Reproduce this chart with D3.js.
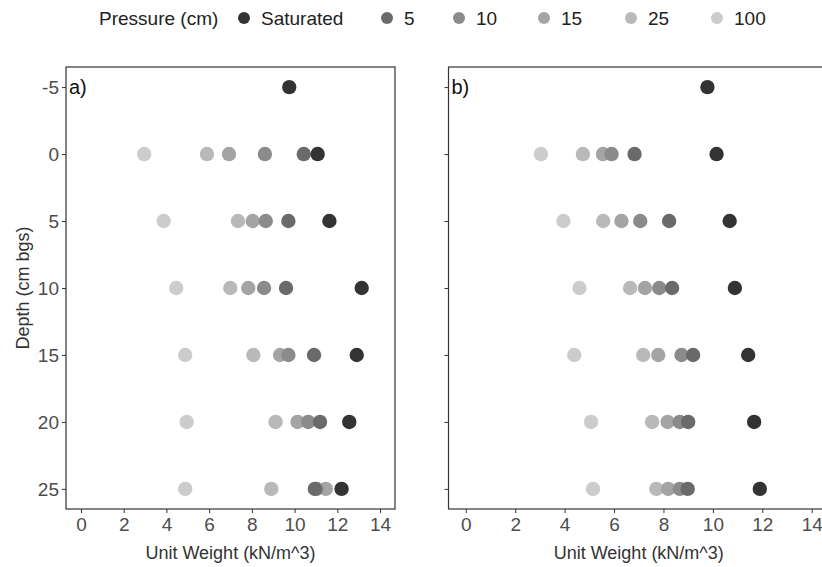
<!DOCTYPE html>
<html lang="en">
<head>
  <meta charset="UTF-8">
  <title>Unit Weight by Depth</title>
  <script src="https://d3js.org/d3.v7.min.js"></script>
  <style>
    body {
      margin: 0;
      background: #fff;
      font-family: 'Liberation Sans', Arial, sans-serif;
    }
    svg { display: block; }
    .tick-label { fill: #4d4d4d; font-size: 19px; }
    .axis-title { fill: #333; font-size: 18px; }
    .legend-text { fill: #222; font-size: 19px; }
    .panel-label { fill: #111; font-size: 20px; }
  </style>
</head>
<body>
  <svg width="822" height="567"></svg>

  <script>
    // depths (cm below ground surface) and pressure classes
    const depths = [-5, 0, 5, 10, 15, 20, 25];
    const pressures = ["Saturated", "5", "10", "15", "25", "100"];
    const colors = ["#333333", "#6a6a6a", "#8b8b8b", "#a4a4a4", "#b9b9b9", "#cccccc"];
    const xTicks = [0, 2, 4, 6, 8, 10, 12, 14];
    const yTicks = [-5, 0, 5, 10, 15, 20, 25];

    // panel a) unit weight (kN/m^3) per pressure, one value per depth
    const aSaturated = [9.75, 11.08, 11.63, 13.14, 12.91, 12.56, 12.20];
    const a5   = [null, 10.43, 9.71, 9.60, 10.91, 11.19, 10.95];
    const a10  = [null, 8.61, 8.65, 8.57, 9.71, 10.64, 11.02];
    const a15  = [null, 6.93, 8.04, 7.83, 9.32, 10.14, 11.46];
    const a25  = [null, 5.90, 7.35, 6.99, 8.07, 9.11, 8.91];
    const a100 = [null, 2.96, 3.87, 4.46, 4.88, 4.95, 4.88];

    // panel b)
    const bSaturated = [9.78, 10.15, 10.68, 10.89, 11.43, 11.67, 11.90];
    const b5   = [null, 6.83, 8.23, 8.35, 9.20, 9.00, 8.98];
    const b10  = [null, 5.90, 7.06, 7.83, 8.73, 8.66, 8.66];
    const b15  = [null, 5.55, 6.30, 7.25, 7.79, 8.17, 8.19];
    const b25  = [null, 4.74, 5.56, 6.65, 7.18, 7.54, 7.71];
    const b100 = [null, 3.04, 3.95, 4.60, 4.39, 5.07, 5.15];

    const panels = [
      {label: "a)", series: [aSaturated, a5, a10, a15, a25, a100], left: 66, right: 395, tickLabels: true},
      {label: "b)", series: [bSaturated, b5, b10, b15, b25, b100], left: 448.5, right: 829, tickLabels: false}
    ];

    const svg = d3.select("svg");
    const plotTop = 67, plotBottom = 509;

    const y = d3.scaleLinear().domain([-6.5, 26.5]).range([plotTop, plotBottom]);

    panels.forEach(p => {
      const x = d3.scaleLinear().domain([-0.7, 14.7]).range([p.left, p.right]);
      const g = svg.append("g");

      // frame
      g.append("rect")
        .attr("x", p.left).attr("y", plotTop)
        .attr("width", p.right - p.left).attr("height", plotBottom - plotTop)
        .attr("fill", "none").attr("stroke", "#333").attr("stroke-width", 1.2);

      // y axis ticks (plain hyphen for negatives, like the original)
      const yAxis = g.append("g")
        .attr("transform", `translate(${p.left},0)`)
        .call(d3.axisLeft(y).tickValues(yTicks).tickSize(4).tickPadding(3)
          .tickFormat(p.tickLabels ? d => String(d) : () => ""));
      yAxis.select(".domain").remove();
      yAxis.selectAll("line").attr("stroke", "#333");
      yAxis.selectAll("text").attr("class", "tick-label").attr("fill", null);
      yAxis.attr("font-size", null).attr("font-family", null);

      // x axis ticks
      const xAxis = g.append("g")
        .attr("transform", `translate(0,${plotBottom})`)
        .call(d3.axisBottom(x).tickValues(xTicks).tickSize(4).tickPadding(5)
          .tickFormat(d => String(d)));
      xAxis.select(".domain").remove();
      xAxis.selectAll("line").attr("stroke", "#333");
      xAxis.selectAll("text").attr("class", "tick-label").attr("fill", null);
      xAxis.attr("font-size", null).attr("font-family", null);

      // points: lightest first so darker ones sit on top
      for (let i = pressures.length - 1; i >= 0; i--) {
        const pts = depths.map((d, j) => ({depth: d, value: p.series[i][j]}))
          .filter(d => d.value != null);
        g.selectAll(null)
          .data(pts)
          .enter().append("circle")
            .attr("cx", d => x(d.value))
            .attr("cy", d => y(d.depth))
            .attr("r", 7.2)
            .attr("fill", colors[i]);
      }

      g.append("text")
        .attr("class", "panel-label")
        .attr("x", p.left + 3)
        .attr("y", y(-5) + 7)
        .text(p.label);

      g.append("text")
        .attr("class", "axis-title")
        .attr("x", (p.left + p.right) / 2)
        .attr("y", 559)
        .attr("text-anchor", "middle")
        .text("Unit Weight (kN/m^3)");
    });

    svg.append("text")
      .attr("class", "axis-title")
      .attr("transform", `translate(29,${(plotTop + plotBottom) / 2}) rotate(-90)`)
      .attr("text-anchor", "middle")
      .text("Depth (cm bgs)");

    // legend
    const legend = svg.append("g").attr("transform", "translate(0,18)");
    legend.append("text")
      .attr("class", "legend-text")
      .attr("x", 99).attr("y", 7)
      .text("Pressure (cm)");

    const keyX = [244, 387, 459, 544, 631, 717];
    pressures.forEach((name, i) => {
      legend.append("circle")
        .attr("cx", keyX[i]).attr("cy", 0).attr("r", 6)
        .attr("fill", colors[i]);
      legend.append("text")
        .attr("class", "legend-text")
        .attr("x", keyX[i] + 17).attr("y", 7)
        .text(name);
    });
  </script>
</body>
</html>
